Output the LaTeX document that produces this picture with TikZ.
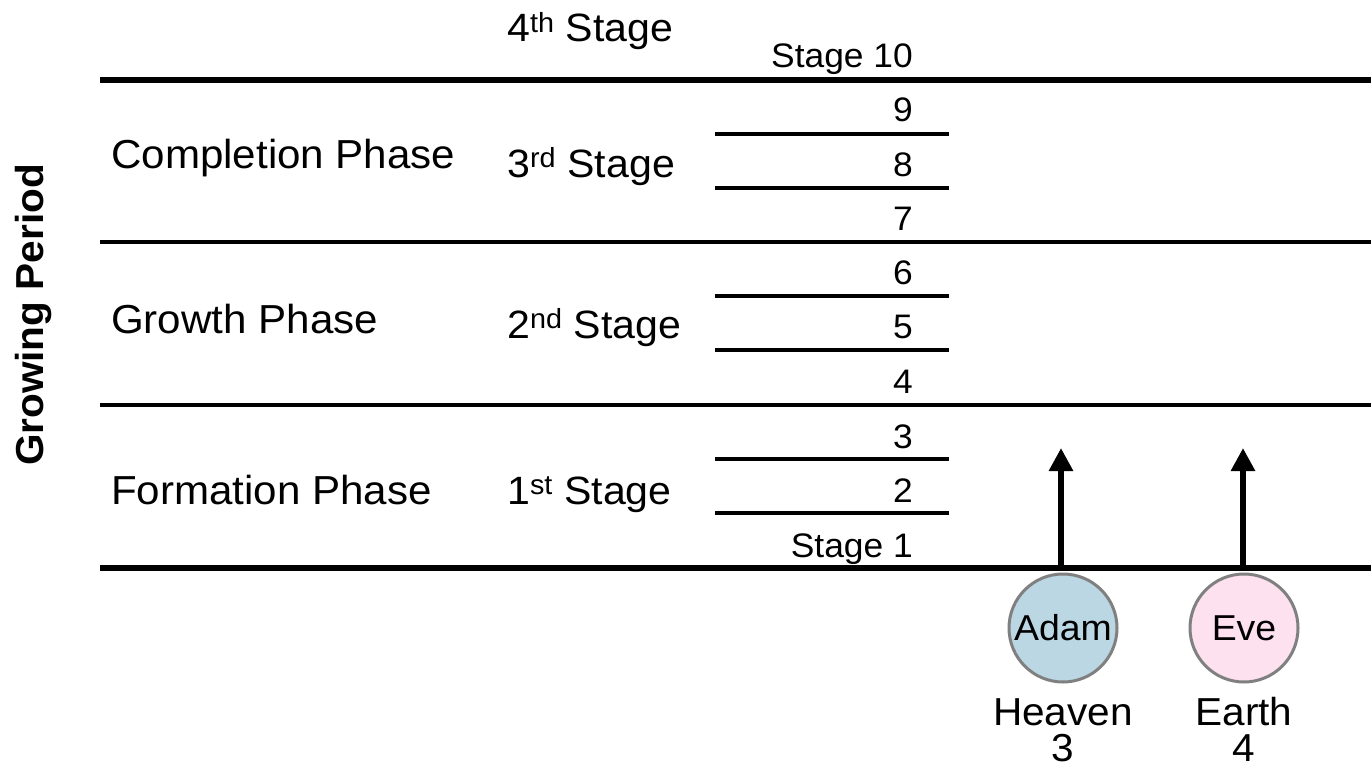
\documentclass[tikz,border=0pt]{standalone}
\usepackage{fontspec}
\setmainfont{Liberation Sans}[FakeStretch=1.04]
\usetikzlibrary{arrows.meta}
\definecolor{ringgray}{HTML}{808080}
\definecolor{adamblue}{HTML}{BBD7E4}
\definecolor{evepink}{HTML}{FDE1EF}
\begin{document}
\begin{tikzpicture}[x=1pt,y=-1pt,
  phase/.style={anchor=base west, inner sep=0pt, font=\fontsize{40.5}{46}\selectfont},
  stagelbl/.style={anchor=base west, inner sep=0pt, font=\fontsize{39.5}{46}\selectfont},
  num/.style={anchor=base east, inner sep=0pt, font=\fontsize{34}{40}\selectfont},
  thickline/.style={line width=6pt},
  midline/.style={line width=3.5pt},
  subline/.style={line width=3.5pt},
  person/.style={circle, draw=ringgray, line width=3pt, minimum size=108pt, inner sep=0pt, font=\fontsize{36}{42}\selectfont},
  growarrow/.style={line width=6pt, -{Triangle[width=23pt,length=23pt]}},
  place/.style={anchor=base, inner sep=0pt, font=\fontsize{39}{47}\selectfont}
]
\useasboundingbox (0,0) rectangle (1371,765);

% vertical title
\node[rotate=90, anchor=base, inner sep=0pt, font=\fontsize{39}{44}\selectfont\bfseries] (title) at (43,315) {Growing Period};

% horizontal lines
\draw[thickline] (100,80) -- (1371,80);
\draw[midline] (100,242) -- (1371,242);
\draw[midline] (100,405) -- (1371,405);
\draw[thickline] (100,568) -- (1371,568);
\foreach \y in {134,188,296,350,459,513} \draw[subline] (715,\y) -- (949,\y);

% phase labels
\node[phase] (completion) at (111,168) {Completion Phase};
\node[phase] (growth) at (111,333) {Growth Phase};
\node[phase] (formation) at (111,504) {Formation Phase};

% stage labels
\node[stagelbl] (s4) at (507,42) {4\textsuperscript{th} Stage};
\node[stagelbl] (s3) at (507,177) {3\textsuperscript{rd} Stage};
\node[stagelbl] (s2) at (507,338) {2\textsuperscript{nd} Stage};
\node[stagelbl] (s1) at (507,504) {1\textsuperscript{st} Stage};

% numbers
\node[num] (n10) at (913,68) {Stage 10};
\node[num] (n9) at (913,122) {9};
\node[num] (n8) at (913,176) {8};
\node[num] (n7) at (913,230) {7};
\node[num] (n6) at (913,284) {6};
\node[num] (n5) at (913,338) {5};
\node[num] (n4) at (913,393) {4};
\node[num] (n3) at (913,448) {3};
\node[num] (n2) at (913,502) {2};
\node[num] (n1) at (913,557) {Stage 1};

% persons
\node[person, fill=adamblue] (adam) at (1063,628) {Adam};
\node[person, fill=evepink] (eve) at (1244,628) {Eve};
\node[place] (heaven) at (1063,725) {Heaven};
\node[place] (h3) at (1063,761) {3};
\node[place] (earth) at (1244,725) {Earth};
\node[place] (e4) at (1244,761) {4};

% arrows
\coordinate (a1s) at (1061,565);
\coordinate (a1e) at (1061,448);
\coordinate (a2s) at (1243,565);
\coordinate (a2e) at (1243,448);
\draw[growarrow] (a1s) -- (a1e);
\draw[growarrow] (a2s) -- (a2e);
\end{tikzpicture}
\end{document}
